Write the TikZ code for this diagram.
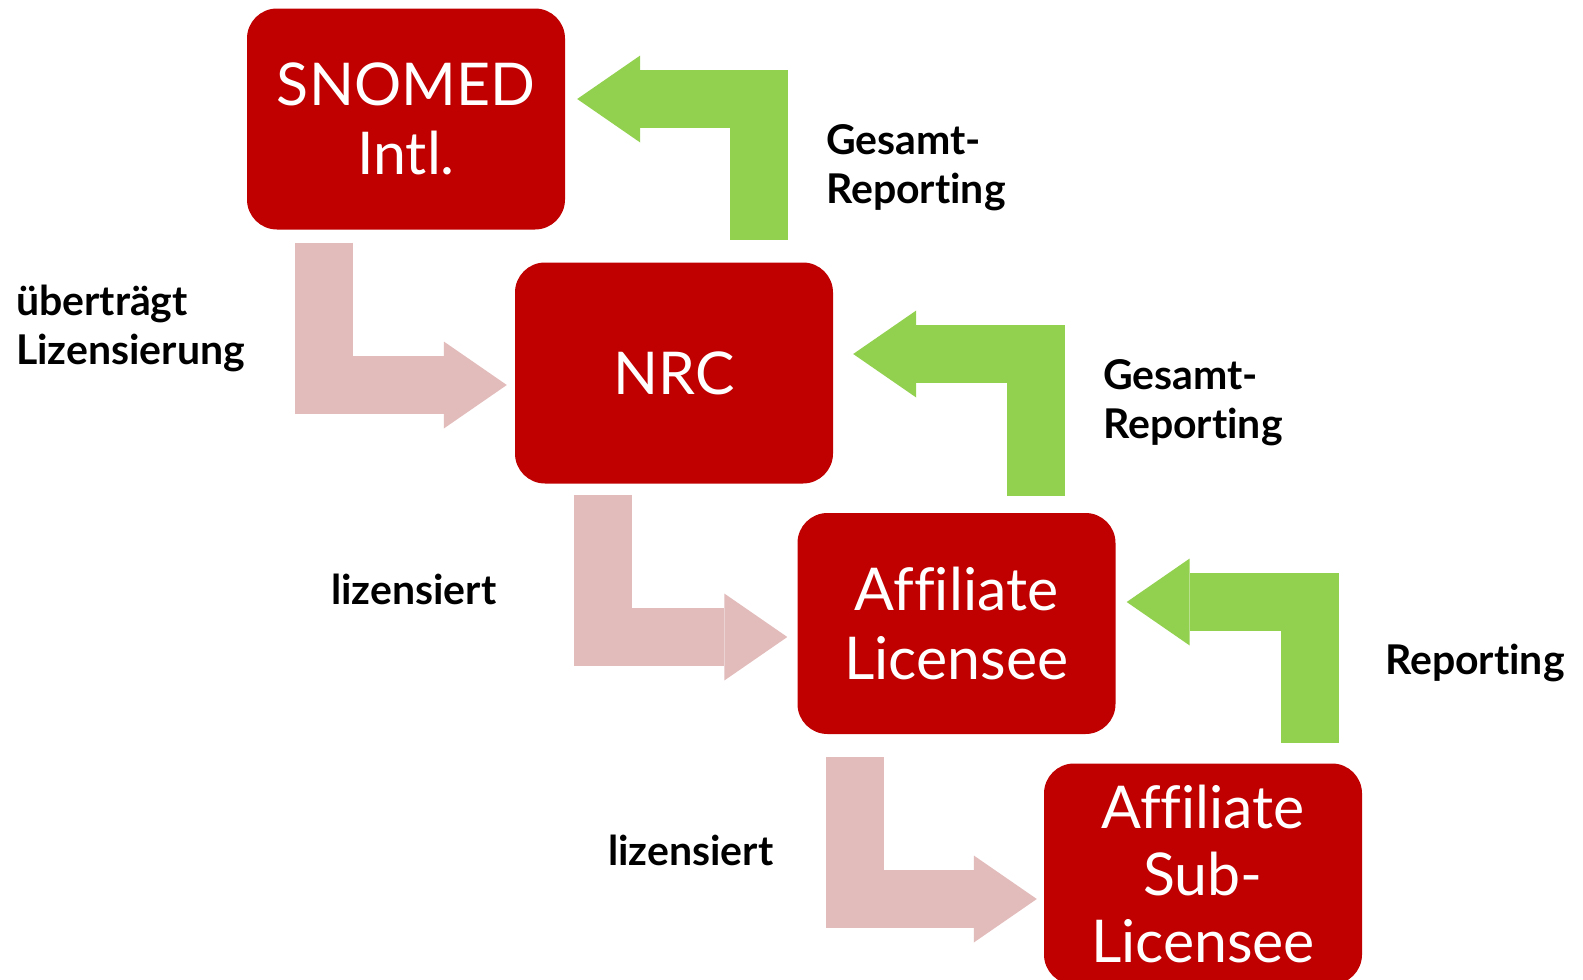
\documentclass[tikz,border=0pt]{standalone}
\usepackage{fontspec}
\setmainfont{Lato}[Ligatures=NoCommon]
\usepackage{tikz}
\usetikzlibrary{arrows.meta,positioning}
\usepackage{xcolor}
\definecolor{snred}{RGB}{192,0,0}
\definecolor{lizpink}{RGB}{226,187,187}
\definecolor{repgreen}{RGB}{146,208,80}
\tikzstyle{orgbox} = [rectangle, rounded corners=30pt, fill=snred, text=white, minimum width=318pt,
    minimum height=221pt, inner sep=0pt, align=center, font=\fontsize{59}{69}\selectfont]
\tikzstyle{lizarrow} = [draw=lizpink, line width=58pt, line join=miter,
    -{Triangle[length=63pt,width=87pt,line width=0pt]}]
\tikzstyle{reparrow} = [draw=repgreen, line width=58pt, line join=miter,
    -{Triangle[length=63pt,width=87pt,line width=0pt]}]
\tikzstyle{lbl} = [anchor=base west, align=left, inner sep=0pt, font=\fontsize{41}{49}\selectfont\bfseries]

\begin{document}
\begin{tikzpicture}[x=1pt, y=-1pt]
\useasboundingbox (0,0) rectangle (1583,980);
\node[orgbox] (snomed) at (406,119) {SNOMED\\Intl.};
\node[orgbox] (nrc) at (674,373) {NRC};
\node[orgbox] (affl) at (956.5,623.5) {Affiliate\\Licensee};
\node[orgbox, font=\fontsize{59}{67}\selectfont] (sub) at (1203,874) {Affiliate\\Sub-\\Licensee};
\draw[lizarrow] ([shift={(77,13)}]snomed.south west) |- ([shift={(-8,12)}]nrc.west);
\draw[lizarrow] ([shift={(88.5,11)}]nrc.south west) |- ([shift={(-10,13.5)}]affl.west);
\draw[lizarrow] ([shift={(58,23)}]affl.south west) |- ([shift={(-7,25)}]sub.west);
\draw[reparrow] ([shift={(244,-22.5)}]nrc.north west) |- ([shift={(12,-20)}]snomed.east);
\draw[reparrow] ([shift={(239,-17)}]affl.north west) |- ([shift={(20,-19)}]nrc.east);
\draw[reparrow] ([shift={(266,-20.5)}]sub.north west) |- ([shift={(11,-21.5)}]affl.east);
\node[lbl] (uebertraegt) at (16,364) {überträgt\\Lizensierung};
\node[lbl] (gesamtA) at (826,203) {Gesamt-\\Reporting};
\node[lbl] (gesamtB) at (1103,438) {Gesamt-\\Reporting};
\node[lbl] (reporting) at (1385,674) {Reporting};
\node[lbl] (lizA) at (331,604) {lizensiert};
\node[lbl] (lizB) at (608,865) {lizensiert};
\end{tikzpicture}
\end{document}
